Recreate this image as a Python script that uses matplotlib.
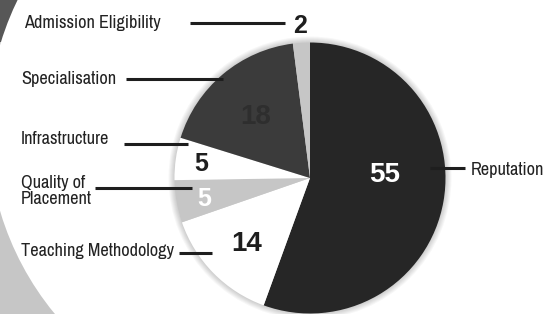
import numpy as np
import matplotlib
matplotlib.use('Agg')
import matplotlib.pyplot as plt
from matplotlib import font_manager
from matplotlib.patches import Circle, Rectangle

# data
categories = ['Reputation', 'Teaching Methodology', 'Quality of\nPlacement',
              'Infrastructure', 'Specialisation', 'Admission Eligibility']
values = [55, 14, 5, 5, 18, 2]
slice_colors = ['#262626', '#ffffff', '#c6c6c6', '#ffffff', '#3b3b3b', '#c6c6c6']
value_colors = ['#ffffff', '#1e1e1e', '#ffffff', '#1e1e1e', '#2e2e2e', '#1e1e1e']

# layout (pixel coords, y down)
cx, cy, rad = 310, 178, 135.5
value_dist = [0.555, 0.66, 0.79, 0.81, 0.62, 1.14]    # radius fraction of number
value_shift = [-14.6, 0, 0, 0, 0, 0]                   # degrees off the slice middle
value_size = [20, 20, 18, 18, 20, 18]
label_xy = [(471, 170), (21, 251), (21, 191), (21, 139), (21, 79), (24, 23)]
leader = [(430, 465, 168), (179, 212, 253), (95, 192, 188),
          (124, 188, 144), (126, 223, 79), (190, 285, 23)]

# a condensed face if one is installed, otherwise a smaller regular one
names = {f.name for f in font_manager.fontManager.ttflist}
narrow = None
for n in sorted(names):
    if 'Narrow' in n or 'Condensed' in n:
        narrow = n
        break
if narrow:
    label_font, label_size = [narrow, 'DejaVu Sans'], 13.2
else:
    label_font, label_size = ['Liberation Sans', 'DejaVu Sans'], 11.5
num_font = ['Liberation Sans', 'DejaVu Sans']

fig = plt.figure(figsize=(5.46, 3.14), dpi=100)
ax = fig.add_axes([0, 0, 1, 1])

# decorative background
ax.add_patch(Rectangle((0, 0), 120, 314, color='#c6c6c6', zorder=0, lw=0))
ax.add_patch(Rectangle((0, 0), 120, 42, color='#575757', zorder=0, lw=0))
ax.add_patch(Circle((280, 128), 292, color='white', zorder=0.2, lw=0))

# soft shadow round the pie
for k in range(1, 7):
    ax.add_patch(Circle((cx, cy), rad + k, color='black', alpha=0.03, zorder=0.5, lw=0))

wedges, _ = ax.pie(values, colors=slice_colors, startangle=-90, counterclock=True,
                   center=(cx, cy), radius=rad,
                   wedgeprops=dict(linewidth=0, zorder=1))

for i, w in enumerate(wedges):
    th = np.deg2rad((w.theta1 + w.theta2) / 2 + value_shift[i])
    x = cx + value_dist[i] * rad * np.cos(th)
    y = cy + value_dist[i] * rad * np.sin(th)
    fs_px = value_size[i] * 100 / 72
    ax.text(x, y + 0.36 * fs_px, str(values[i]), ha='center', va='baseline',
            fontsize=value_size[i], fontweight='bold', color=value_colors[i],
            family=num_font, zorder=3)

for i, lab in enumerate(categories):
    lx, ly = label_xy[i]
    ax.text(lx, ly, lab, ha='left', va='center', fontsize=label_size, color='#222222',
            family=label_font, linespacing=1.05, zorder=3)
    x0, x1, yl = leader[i]
    ax.plot([x0, x1], [yl, yl], color='#1e1e1e', lw=2.2, solid_capstyle='butt', zorder=2)

ax.set_xlim(0, 546)
ax.set_ylim(314, 0)
ax.set_aspect('equal')
ax.axis('off')

fig.savefig('out.png', dpi=100)
